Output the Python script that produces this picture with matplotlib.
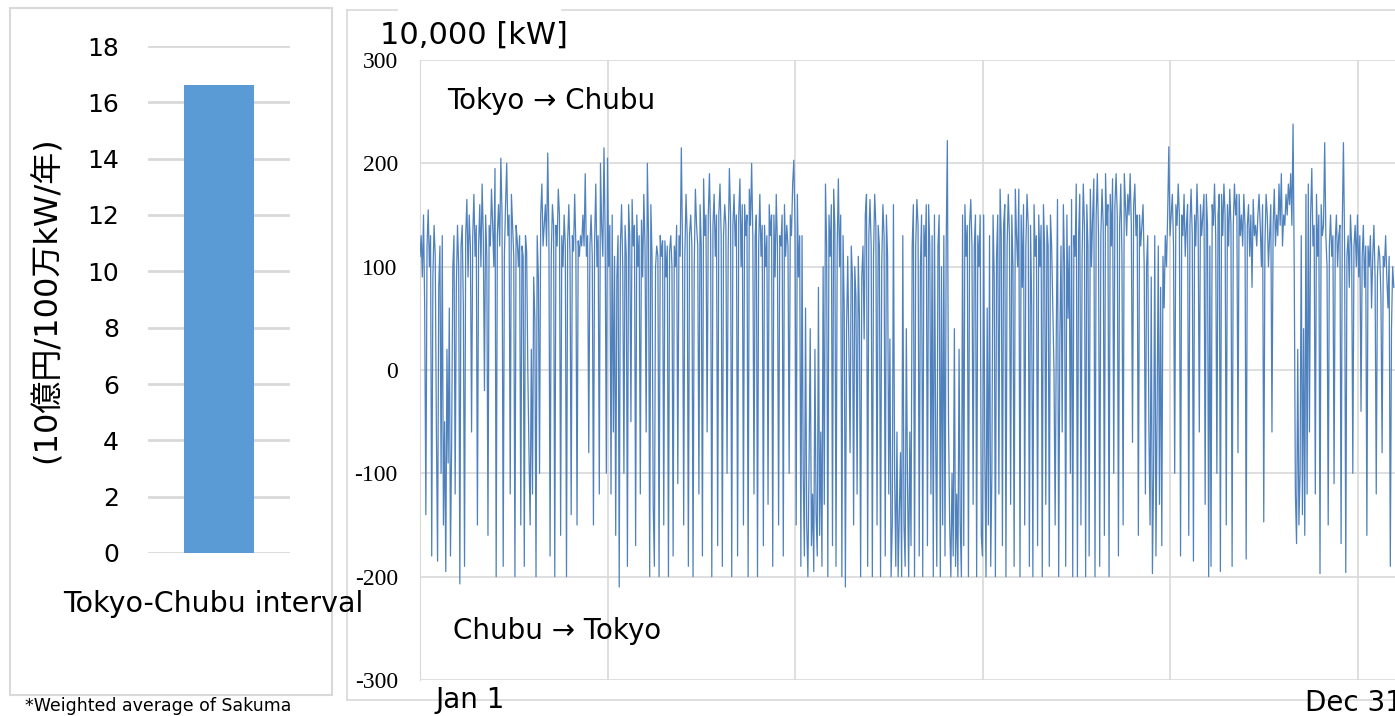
import numpy as np
import matplotlib
matplotlib.use('Agg')
import matplotlib.pyplot as plt
from matplotlib.lines import Line2D
from matplotlib.patches import Rectangle

# left chart: annual benefit of the interval
bar_labels = ['Tokyo-Chubu interval']
bar_values = [16.6]
bar_ticks = [0, 2, 4, 6, 8, 10, 12, 14, 16, 18]

# right chart: hourly flow, 10,000 kW (160 values per grid column)
flow_ticks = [-300, -200, -100, 0, 100, 200, 300]

flow_seg1 = [110, 130, 90, 150, 60, -140, 120, 155, 100, 130, -180, 90, 140, 110, -60, -185, 80, 120, -100, 130,
             -150, -50, -195, 20, -90, 60, -180, -70, 100, 130, -120, 80, 140, 100, -207, 120, 140, 60, -190, 130,
             165, 90, 150, 120, -60, 130, 170, 110, 140, -150, 120, 160, 100, 180, 130, -20, 150, 110, -160, 140,
             120, 175, 140, 100, 195, -200, 130, 160, 120, 205, 150, -190, 110, 160, 200, 130, 150, -120, 170, 140,
             110, -200, 140, 125, 100, 130, -150, 120, 110, -190, 130, 115, 0, -80, -150, 20, -120, 90, 50, -200,
             130, 90, -100, 150, 180, 120, 140, 160, 120, 210, 130, -180, 110, 160, 140, -200, 140, 120, 175, 150,
             -160, 130, 100, 150, 120, -200, 125, 160, 110, -140, 130, 115, 170, 120, -150, 125, 110, 130, 120, 150,
             120, 190, 110, 130, -80, 120, 150, 110, -150, 125, 180, 100, 130, -120, 200, 140, 110, 215, 130, -100]

flow_seg2 = [205, 100, 140, -120, 150, -60, 110, -160, 90, 130, -210, 120, 160, 100, -100, 140, 110, -190, 160, 130,
             -50, 165, 120, 140, -170, 150, 100, 130, -120, 145, 90, 170, 120, -60, 200, 130, -200, 160, 110, -130,
             -190, 100, 120, 110, -200, 130, 110, 125, -150, 125, 90, 120, -200, 115, 130, 100, -180, 120, 100, 140,
             -110, 130, 110, 215, 120, -150, 110, 170, 130, -190, 130, 150, 120, -200, 100, 175, 140, 120, -120, 160,
             120, -180, 185, 130, 150, -60, 150, 190, 130, -200, 140, 170, 110, 150, -170, 150, 180, 130, -190, 130,
             160, 140, -100, 120, 195, 150, -200, 140, 170, 120, 150, -180, 150, 185, 100, 160, -150, 160, 130, 150,
             -200, 175, 140, 200, 130, -120, 130, 150, -200, 120, 170, 110, 140, -170, 140, 100, 130, -130, 160, 130,
             150, -190, 150, 90, 170, 120, -150, 130, 120, 150, -180, 160, 110, 140, 120, -100, 150, 130, 180, 203]

flow_seg3 = [140, -150, 170, 90, 130, -190, 130, -100, -180, 60, -150, -200, -90, 40, -170, -120, -195, 20, -140, -180,
             80, -160, -60, -190, 100, -130, 180, 120, -200, 150, 110, 160, -170, 175, 140, -190, 120, 185, 100, 150,
             -200, 130, 60, -210, 40, 110, 20, -80, 120, 90, -150, 100, 70, -120, 110, 50, -200, 90, 120, 30,
             150, 170, -190, 130, 165, 120, -200, 110, 170, 140, -150, 140, 120, -200, 100, 160, 130, -180, 150, 110,
             -120, 30, -200, -150, 160, -100, -190, -60, -200, -140, -80, -200, 130, -150, -190, 40, -110, -200, -60, -170,
             120, 160, -200, 120, 165, 140, -180, 100, 150, -200, 140, 110, 160, -170, 160, 120, -120, 130, -200, 150,
             -60, -190, 120, 150, -200, 100, -150, 130, -180, 120, 222, -50, -150, -200, -100, -180, 40, -190, -120, -200,
             20, -150, -200, 150, -170, 160, 110, 140, -200, 140, 165, 120, -130, 120, 150, -200, 130, 100, 150, -160]

flow_seg4 = [-180, 150, -80, -200, 60, -150, 130, -190, -100, 150, 90, -200, 110, 150, -120, 175, 130, -170, 140, 160,
             -200, 120, 170, 130, -130, 150, 100, -190, 175, 130, 100, 175, -200, 150, 80, 160, -150, 120, 170, 140,
             -190, 140, 60, -200, 160, 110, 130, -170, 150, 100, 140, -200, 160, 120, -130, 140, 120, -190, 150, 120,
             60, 0, -150, 40, 165, -200, 30, 120, -60, 160, 100, -190, 150, 50, 120, -100, 165, -200, 130, 110,
             180, -200, 130, 170, -150, 110, 180, 140, -200, 160, 120, -180, 175, 100, 150, 185, -200, 150, 190, 130,
             -190, 130, 175, 140, -160, 190, 140, 160, -200, 170, 120, 185, -100, 160, 190, 150, -180, 140, 180, 110,
             -150, 190, 160, 130, 170, 150, 190, 140, -70, 160, 180, 130, 150, -160, 150, 120, 140, 160, 100, -120,
             100, 130, -60, -150, 90, -197, -100, 130, -180, -40, 120, -130, 80, -170, 110, 60, 130, 100, 150, 216]

flow_seg5 = [130, 150, 170, 120, -100, 160, 140, 180, 150, -180, 150, 130, 170, 110, 140, 160, -160, 140, 175, 130,
             -185, 150, 120, 180, 140, -60, 160, 130, 150, 170, -130, 170, 140, -200, 120, -190, 160, 140, 180, 130,
             -100, 150, 170, -195, 170, 130, 180, 150, -150, 160, 120, 175, 140, -190, 140, 180, 150, 170, -80, 170,
             130, 150, 120, 170, 140, -183, 140, 160, 110, 150, 80, 165, 130, 140, 120, 150, 170, 140, 100, 160,
             -147, 120, 170, 150, 100, 130, 160, -60, 140, 175, 120, 150, 130, 180, 140, 190, 120, 150, 140, 170,
             150, 180, 160, 190, 140, 238, 100, -120, -168, 20, -150, -100, 130, -140, 40, -160, 170, -120, 180, -60,
             150, 195, 120, 140, -120, 170, 110, 150, -197, 160, 130, 140, 220, 130, 100, -150, 120, 150, 110, 130,
             -110, 125, 150, 100, 130, 140, -168, 140, 220, 120, -196, 110, 130, 80, 150, 120, -100, 120, 140, 100,
             150, 90, 130, -40, 110, 140, 80, 120, -160, 120, 100, 130, 60, 110, 140, 90, -120, 90, 120, 110,
             70, -80, 110, 100, 130, 90, 60, 110, -190, 40, 100, 80]

flow = flow_seg1 + flow_seg2 + flow_seg3 + flow_seg4 + flow_seg5
col_len = len(flow_seg1)

W, H = 1395, 716
fig = plt.figure(figsize=(W / 100, H / 100), dpi=100)


def fx(px):
    return px / W


def fy(py):
    return 1 - py / H


grid_c = '#D9D9D9'

# ---- left bar chart
ax1 = fig.add_axes([fx(148), fy(553), fx(290) - fx(148), fy(46) - fy(553)])
ax1.bar(range(len(bar_values)), bar_values, width=0.986, color='#5B9BD5', zorder=2)
ax1.set_xlim(-1, 1)
ax1.set_ylim(0, 18)
ax1.set_yticks(bar_ticks)
ax1.set_xticks([])
ax1.yaxis.grid(True, color=grid_c, lw=2)
ax1.set_axisbelow(True)
for s in ax1.spines.values():
    s.set_visible(False)
ax1.tick_params(axis='y', length=0, pad=21, labelsize=18)

fig.text(fx(213), fy(604), bar_labels[0], ha='center', va='center', fontsize=20.5)
fig.text(fx(47), fy(300), '(10億円/100万kW/年)', rotation=90, ha='center', va='center',
         fontsize=23, family=['DejaVu Sans', 'Noto Sans CJK JP'])
fig.text(fx(25), fy(706), '*Weighted average of Sakuma', ha='left', va='center', fontsize=12.5)

fig.add_artist(Rectangle((fx(10), fy(695)), fx(332) - fx(10), fy(8) - fy(695),
                         transform=fig.transFigure, fill=False, ec=grid_c, lw=1.5))

# ---- right time series
ax2 = fig.add_axes([fx(420), fy(680), 1 - fx(420), fy(60) - fy(680)])
x = np.arange(len(flow))
ax2.plot(x, flow, color='#4F81BD', lw=0.9, zorder=3)
ax2.set_xticks([col_len * k for k in range(6)])
ax2.set_xticklabels([])
# plot area runs past the right edge of the picture
ax2.set_xlim(0, col_len * 5 * 975 / 937.5)
ax2.set_ylim(-300, 300)
ax2.set_yticks(flow_ticks)
ax2.set_yticklabels([str(v) for v in flow_ticks], family='Liberation Serif', fontsize=17)
ax2.grid(True, color=grid_c, lw=1.2)
ax2.set_axisbelow(True)
for k, s in ax2.spines.items():
    s.set_visible(k == 'left')
ax2.spines['left'].set_color(grid_c)
ax2.tick_params(length=0, pad=16)

fig.text(fx(380), fy(35), '10,000 [kW]', ha='left', va='center', fontsize=22)
fig.text(fx(447), fy(101), 'Tokyo → Chubu', ha='left', va='center', fontsize=20)
fig.text(fx(453), fy(631), 'Chubu → Tokyo', ha='left', va='center', fontsize=20)
fig.text(fx(435), fy(700), 'Jan 1', ha='left', va='center', fontsize=20)
fig.text(fx(1305), fy(703), 'Dec 31', ha='left', va='center', fontsize=20)

# outer frame of the right chart (top edge broken by the unit label)
for xs, ys in [([347, 347], [10, 700]), ([347, 397], [10, 10]),
               ([562, 1395], [10, 10]), ([347, 1395], [700, 700])]:
    fig.add_artist(Line2D([fx(v) for v in xs], [fy(v) for v in ys],
                          transform=fig.transFigure, color=grid_c, lw=1.2))

fig.savefig('out.png', dpi=100)
